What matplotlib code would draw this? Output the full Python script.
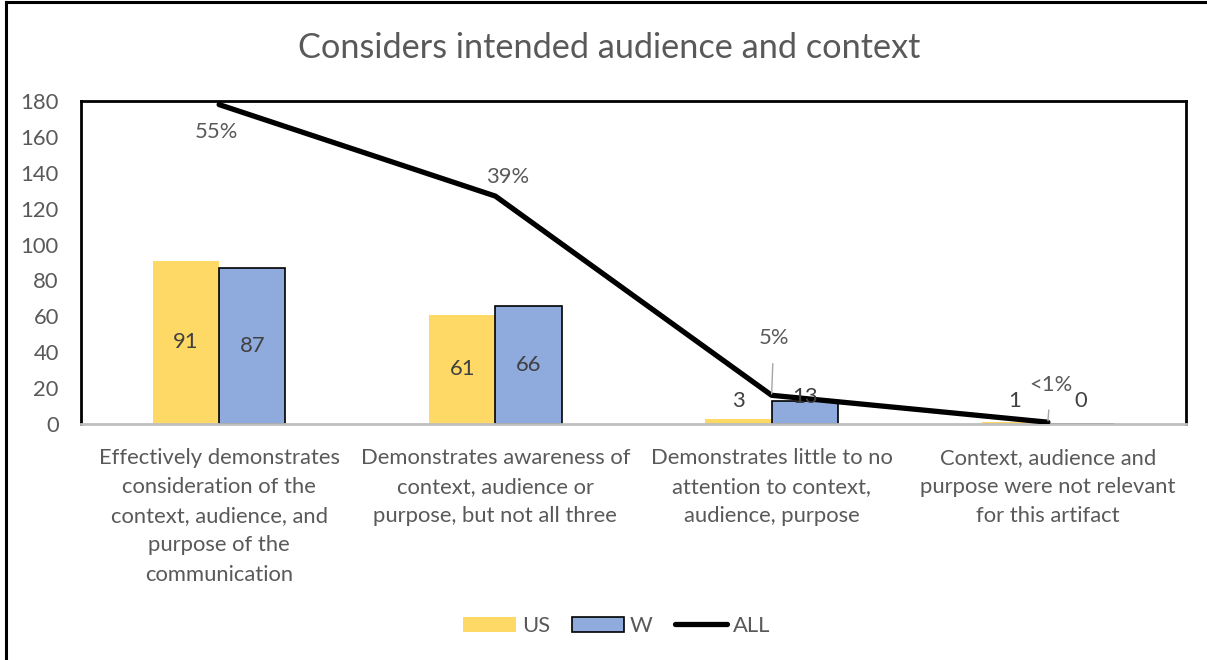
import matplotlib
matplotlib.use("Agg")
import matplotlib.pyplot as plt
import numpy as np
from matplotlib.lines import Line2D

# data
categories = [
    "Effectively demonstrates\nconsideration of the\ncontext, audience, and\npurpose of the\ncommunication",
    "Demonstrates awareness of\ncontext, audience or\npurpose, but not all three",
    "Demonstrates little to no\nattention to context,\naudience, purpose",
    "Context, audience and\npurpose were not relevant\nfor this artifact",
]
us_values = [91, 61, 3, 1]
w_values = [87, 66, 13, 0]
all_values = [178, 127, 16, 1]
all_labels = ["55%", "39%", "5%", "<1%"]
y_ticks = [0, 20, 40, 60, 80, 100, 120, 140, 160, 180]

US_COLOR = "#FFD966"
W_COLOR = "#8FAADC"
TEXT = "#595959"
LABEL = "#404040"
FS = 15.8

plt.rcParams["font.family"] = ["Lato", "DejaVu Sans"]

fig = plt.figure(figsize=(12.07, 6.6), dpi=100)
ax = fig.add_axes([81 / 1207, 1 - 424 / 660, (1186 - 81) / 1207, (424 - 101) / 660])

x = np.arange(len(categories))
bw = 0.24
ax.bar(x - bw / 2, us_values, bw, color=US_COLOR, edgecolor="none", label="US", zorder=2)
ax.bar(x + bw / 2, w_values, bw, color=W_COLOR, edgecolor="black", linewidth=1.2,
       label="W", zorder=2)
ax.plot(x, all_values, color="black", linewidth=3.8, solid_capstyle="round",
        label="ALL", zorder=4)

# bar value labels (small bars get lifted so they stay readable)
for xi, v in zip(x - bw / 2, us_values):
    ax.text(xi, max(v / 2, 13), str(v), ha="center", va="center", fontsize=FS,
            color=LABEL, zorder=5)
for xi, v in zip(x + bw / 2, w_values):
    ax.text(xi, max(v / 2, 13) + (2 if 5 < v < 20 else 0), str(v), ha="center",
            va="center", fontsize=FS, color=LABEL, zorder=5)

# line labels, offsets in points
offsets = [(-2, -19.5), (9, 14), (1.5, 41), (2, 27)]
for xi, v, lab, (dx, dy) in zip(x, all_values, all_labels, offsets):
    leader = abs(dy) > 25
    ax.annotate(lab, (xi, v), xytext=(dx, dy), textcoords="offset points",
                ha="center", va="center", fontsize=FS, color=TEXT, zorder=6,
                arrowprops=dict(arrowstyle="-", color="#A6A6A6", lw=1,
                                shrinkA=9, shrinkB=1) if leader else None)

ax.set_xlim(-0.5, 3.5)
ax.set_ylim(0, 180)
ax.set_yticks(y_ticks)
ax.set_xticks(x)
ax.set_xticklabels(categories, linespacing=1.58)
ax.tick_params(axis="both", length=0, labelsize=FS, labelcolor=TEXT)
ax.tick_params(axis="x", pad=17)
ax.tick_params(axis="y", pad=16)

for side in ["left", "top", "right"]:
    ax.spines[side].set_color("black")
    ax.spines[side].set_linewidth(2)
ax.spines["bottom"].set_color("#BFBFBF")
ax.spines["bottom"].set_linewidth(2)
ax.spines["bottom"].set_zorder(3)

fig.text(0.505, 1 - 48 / 660, "Considers intended audience and context",
         ha="center", va="center", fontsize=24.7, color=TEXT)

handles = [
    plt.Rectangle((0, 0), 1, 1, facecolor=US_COLOR, edgecolor="none"),
    plt.Rectangle((0, 0), 1, 1, facecolor=W_COLOR, edgecolor="black", linewidth=1.2),
    Line2D([0], [0], color="black", linewidth=3.8, solid_capstyle="round"),
]
fig.legend(handles, ["US", "W", "ALL"], loc="center", bbox_to_anchor=(0.511, 1 - 626 / 660),
           ncol=3, frameon=False, fontsize=FS, labelcolor=TEXT, handlelength=2.4,
           handleheight=0.65, handletextpad=0.25, columnspacing=1.0)

# outer chart frame (left and top edges only)
fig.add_artist(Line2D([6 / 1207, 6 / 1207], [0, 1 - 2 / 660], color="black", lw=2.2,
                      transform=fig.transFigure))
fig.add_artist(Line2D([6 / 1207, 1], [1 - 2 / 660, 1 - 2 / 660], color="black", lw=2.2,
                      transform=fig.transFigure))

fig.savefig("out.png", dpi=100)
